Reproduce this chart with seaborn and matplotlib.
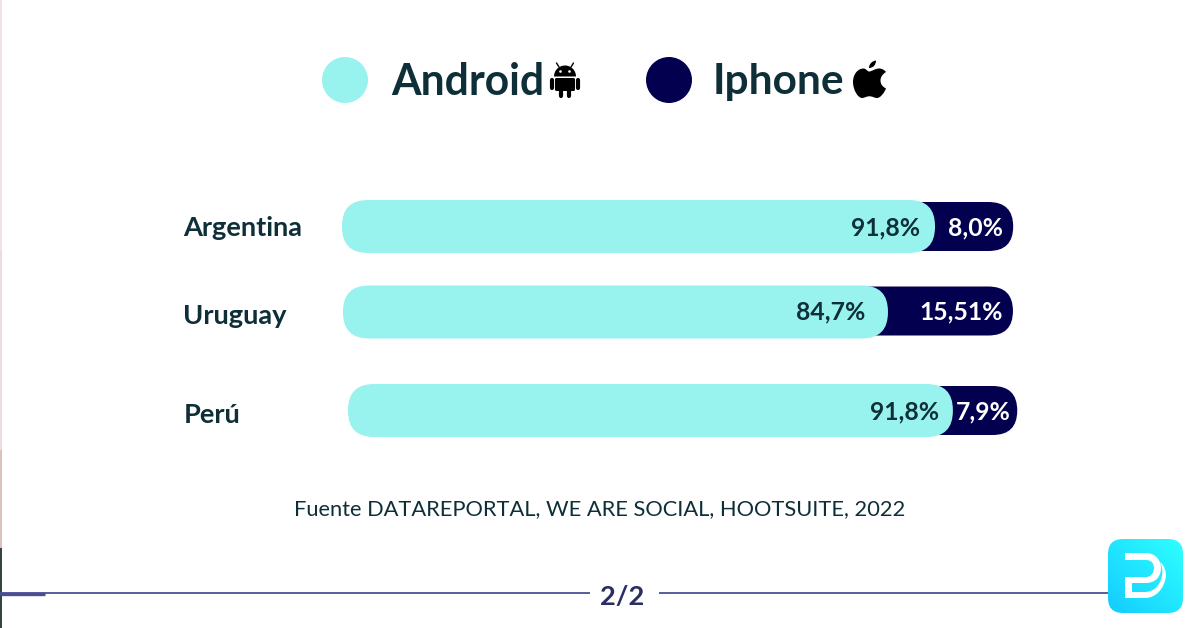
import matplotlib
matplotlib.use("Agg")
import numpy as np
import pandas as pd
import seaborn as sns
import matplotlib.pyplot as plt
from matplotlib.patches import FancyBboxPatch, Circle, Rectangle, PathPatch, Wedge
from matplotlib.path import Path

# ---- data ----
countries = ["Argentina", "Uruguay", "Perú"]
android = [91.8, 84.7, 91.8]
iphone = [8.0, 15.51, 7.9]
android_labels = ["91,8%", "84,7%", "91,8%"]
iphone_labels = ["8,0%", "15,51%", "7,9%"]
series_names = ["Android", "Iphone"]
source_text = "Fuente DATAREPORTAL, WE ARE SOCIAL, HOOTSUITE, 2022"
page_text = "2/2"

# ---- layout / style ----
W, H = 1200, 628
PX_PER_PCT = 6.46
ROW_STEP = 92
cap_pad = [4.1, 3.5, 3.9]
row_dx_px = [0, 1, 6]
android_dy_px = [0, -6.5, 0]
dark_dy_px = [0, -7.5, 0]
android_stretch = [1.0, 0.996, 1.02]
android_label_gap = [15, 23, 14]
iphone_label_right = [1003, 1003, 1011]
label_y_px = [228, 312, 412]
name_y_px = [226, 314, 413]

C_ANDROID = "#98F2EE"
C_IPHONE = "#03004F"
C_TEXT = "#0F2F38"
C_LINE = "#4A4F94"
FONT = "Lato"

sns.set_theme(style="white")
plt.rcParams["font.family"] = [FONT, "DejaVu Sans"]

fig = plt.figure(figsize=(12, 6.28), dpi=100, facecolor="white")

# main chart axes: x is percent, y is the categorical row index
ax_l, ax_r, ax_t, ax_b = 342, 1042, 180.5, 456.5
ax = fig.add_axes([ax_l / W, 1 - ax_b / H, (ax_r - ax_l) / W, (ax_b - ax_t) / H])
ax.patch.set_alpha(0)

totals = np.array(android) + np.array(iphone) + np.array(cap_pad)
shown_android = np.array(android) * np.array(android_stretch)
df = pd.DataFrame({"country": countries, "total": totals, "android": shown_android})
sns.barplot(data=df, y="country", x="total", order=countries, color=C_IPHONE,
            saturation=1, width=49 / ROW_STEP, orient="h", ax=ax)
sns.barplot(data=df, y="country", x="android", order=countries, color=C_ANDROID,
            saturation=1, width=53 / ROW_STEP, orient="h", ax=ax)
ax.set_xlim(0, (ax_r - ax_l) / PX_PER_PCT)
ax.set_ylim(2.5, -0.5)

# round the bars seaborn drew, keeping their data geometry
aspect = PX_PER_PCT / ROW_STEP
rects = list(ax.patches)
for k, r in enumerate(rects):
    i = k % 3
    is_android = k >= 3
    dy = (android_dy_px if is_android else dark_dy_px)[i] / ROW_STEP
    dx = row_dx_px[i] / PX_PER_PCT
    rad_px = 26 if is_android else 24.5
    inset = 0 if is_android else 1.0   # dark track starts under the light bar
    box = FancyBboxPatch((r.get_x() + dx + inset, r.get_y() + dy), r.get_width() - inset, r.get_height(),
                         boxstyle=f"round,pad=0,rounding_size={rad_px / PX_PER_PCT}",
                         mutation_aspect=aspect, fc=r.get_facecolor(), ec="none",
                         zorder=3 if is_android else 2)
    r.remove()
    ax.add_patch(box)

# value labels
for i in range(3):
    y = (label_y_px[i] - 226.5) / ROW_STEP
    end = shown_android[i] + row_dx_px[i] / PX_PER_PCT
    ax.text(end - android_label_gap[i] / PX_PER_PCT, y, android_labels[i], ha="right", va="center",
            fontsize=17.8, fontweight="bold", color=C_TEXT, zorder=5)
    ax.text((iphone_label_right[i] - ax_l) / PX_PER_PCT, y, iphone_labels[i], ha="right", va="center",
            fontsize=17.8, fontweight="bold", color="white", zorder=5)

# category labels as real y tick labels
ax.set_yticks([(v - 226.5) / ROW_STEP for v in name_y_px], labels=countries)
ax.tick_params(axis="y", length=0, pad=(342 - 183.5) * 0.72, labelsize=19.6, labelcolor=C_TEXT)
for t in ax.get_yticklabels():
    t.set_ha("left")
    t.set_fontweight("bold")
ax.set_xlabel("")
ax.set_ylabel("")
ax.xaxis.set_visible(False)
sns.despine(ax=ax, left=True, bottom=True)

# overlay in pixel coordinates for legend, footer and logo
ov = fig.add_axes([0, 0, 1, 1], zorder=-1)
ov.set_axis_off()

# left edge strip
for y0, y1, c in [(0, 60, "#EFE6E4"), (60, 250, "#F2E4E6"), (250, 450, "#EBDDDD"),
                  (450, 548, "#DCC3BA"), (548, 628, "#34463F")]:
    ov.add_patch(Rectangle((0, y0), 2, y1 - y0, fc=c, ec="none"))

# legend
ov.add_patch(Circle((345, 80), 23, fc=C_ANDROID, ec="none"))
ov.add_patch(Circle((669, 80), 23, fc=C_IPHONE, ec="none"))
ov.text(391.5, 82, series_names[0], fontsize=30.7, fontweight="bold", color=C_TEXT, va="center", ha="left")
ov.text(713, 82, series_names[1], fontsize=30.5, fontweight="bold", color=C_TEXT, va="center", ha="left")

# android glyph
k = "black"
ov.add_patch(Wedge((565, 76.5), 11, 180, 360, fc=k, ec="none"))
ov.add_patch(FancyBboxPatch((555, 78), 20, 13, boxstyle="round,pad=0,rounding_size=1.5", fc=k, ec="none"))
ov.plot([552, 552], [80, 88], color=k, lw=3.0, solid_capstyle="round")
ov.plot([578, 578], [80, 88], color=k, lw=3.0, solid_capstyle="round")
ov.plot([561, 561], [90, 95.5], color=k, lw=3.0, solid_capstyle="round")
ov.plot([569, 569], [90, 95.5], color=k, lw=3.0, solid_capstyle="round")
ov.plot([559, 556.5], [67, 63], color=k, lw=1.0)
ov.plot([571, 573.5], [67, 63], color=k, lw=1.0)
ov.add_patch(Circle((560.5, 71.5), 1.3, fc="white", ec="none"))
ov.add_patch(Circle((569.5, 71.5), 1.3, fc="white", ec="none"))

# apple glyph
M, C4, Z = Path.MOVETO, Path.CURVE4, Path.CLOSEPOLY
def curve_path(start, segs):
    verts, codes = [start], [M]
    for a, b, c in segs:
        verts += [a, b, c]
        codes += [C4, C4, C4]
    verts.append(start)
    codes.append(Z)
    return Path(verts, codes)

apple = curve_path((869, 71.5), [
    ((872, 71.5), (875, 68.5), (879, 68.5)),
    ((882, 68.5), (884.5, 70), (886, 72)),
    ((882, 74.5), (880.5, 77.5), (880.5, 80.5)),
    ((880.5, 84.5), (883, 87), (886, 88.5)),
    ((884.5, 92.5), (880.5, 98), (877, 98)),
    ((874, 98), (873, 96.3), (869.5, 96.3)),
    ((866, 96.3), (864.5, 98), (862, 98)),
    ((858, 98), (853, 90), (853, 82)),
    ((853, 74), (858, 68.5), (863.5, 68.5)),
    ((866, 68.5), (867.5, 71.5), (869, 71.5)),
])
leaf = curve_path((869, 68), [
    ((869, 64), (872, 61), (876, 60.5)),
    ((876, 65), (873, 68), (869, 68)),
])
ov.add_patch(PathPatch(apple, fc=k, ec="none"))
ov.add_patch(PathPatch(leaf, fc=k, ec="none"))

# source
ov.text(600, 509, source_text, fontsize=15.75, fontweight="normal", color=C_TEXT, ha="center", va="center")

# footer rule
ov.plot([0, 590], [593, 593], color=C_LINE, lw=1.3, solid_capstyle="butt")
ov.plot([659, 1110], [596 - 3, 593], color=C_LINE, lw=1.3, solid_capstyle="butt")
ov.plot([0, 45], [594, 594], color=C_LINE, lw=2.4, solid_capstyle="butt")
ov.text(622.5, 597, page_text, fontsize=19.6, fontweight="bold", color="#2B2E63", ha="center", va="center")

# logo
badge = FancyBboxPatch((1108, 539), 75, 74, boxstyle="round,pad=0,rounding_size=15", fc="none", ec="none")
ov.add_patch(badge)
gx, gy = np.meshgrid(np.linspace(0, 1, 64), np.linspace(0, 1, 64))
im = ov.imshow(gx + (1 - gy), extent=(1108, 1183, 613, 539), origin="upper", aspect="auto",
               cmap=matplotlib.colors.LinearSegmentedColormap.from_list("b", ["#14CCFF", "#2EFFFF"]),
               zorder=2)
im.set_clip_path(badge)
L = Path.LINETO
d_verts = [(1125, 553), (1146, 553), (1156, 553), (1161, 561), (1161, 568), (1161, 577), (1155, 583), (1146, 583),
           (1132, 583), (1132, 592), (1145, 592), (1153, 592), (1160, 586), (1162, 576),
           (1163, 570), (1162, 566), (1160, 562), (1165, 566), (1166, 572), (1166, 576),
           (1164, 590), (1155, 598), (1145, 598), (1125, 598), (1125, 577), (1146, 577),
           (1151, 577), (1154, 573), (1154, 568), (1154, 563), (1151, 560), (1146, 560),
           (1125, 560), (1125, 553)]
d_codes = [M, L, C4, C4, C4, C4, C4, C4, L, L, L, C4, C4, C4, C4, C4, C4, C4, C4, C4,
           C4, C4, C4, L, L, L, C4, C4, C4, C4, C4, C4, L, Z]
ov.add_patch(PathPatch(Path(d_verts, d_codes), fc="white", ec="none", zorder=3))

ov.set_xlim(0, W)
ov.set_ylim(H, 0)

fig.savefig("out.png", dpi=100, facecolor="white")
